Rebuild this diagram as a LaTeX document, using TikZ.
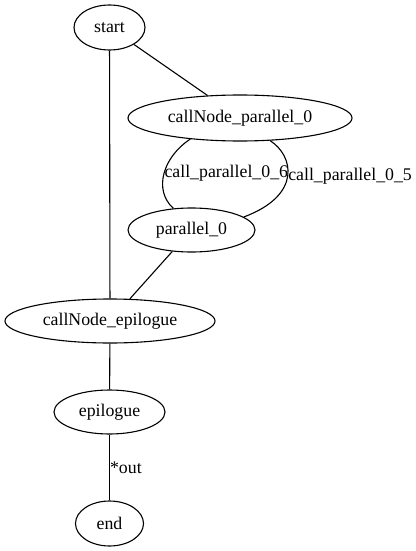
\documentclass[tikz,border=0pt]{standalone}
\usepackage{fontspec}
\setmainfont{Liberation Serif}
\usetikzlibrary{shapes.geometric}
\begin{document}
\begin{tikzpicture}[x=1pt,y=-1pt,
  every node/.style={font=\fontsize{17.8}{20}\selectfont},
  gnode/.style={draw, ellipse, inner sep=0pt, line width=1.1pt},
  edge/.style={line width=1.1pt},
  elabel/.style={inner sep=0pt, anchor=west}]
\useasboundingbox (0,0) rectangle (415,551);
\node[gnode, minimum width=71pt, minimum height=45pt] (start) at (109.5,27.5) {start};
\node[gnode, minimum width=224pt, minimum height=46pt] (cnp) at (240,118) {callNode\_parallel\_0};
\node[gnode, minimum width=127pt, minimum height=44pt] (par) at (191.5,230) {parallel\_0};
\node[gnode, minimum width=210pt, minimum height=44pt] (cne) at (110,321) {callNode\_epilogue};
\node[gnode, minimum width=111pt, minimum height=44pt] (epi) at (109.5,412) {epilogue};
\node[gnode, minimum width=68pt, minimum height=45pt] (end) at (109.5,523.5) {end};
\draw[edge] (start) -- (cne);
\draw[edge] (start) -- (cnp);
\draw[edge] (cnp.203.7) .. controls (163,157) and (153,190) .. (par.130)
  node[elabel, pos=0.5] {call\_parallel\_0\_6};
\draw[edge] (cnp.323.7) .. controls (293,155) and (303,195) .. (par.14.7)
  node[elabel, pos=0.5] {call\_parallel\_0\_5};
\draw[edge] (par) -- (cne);
\draw[edge] (cne) -- (epi);
\draw[edge] (epi) -- (end) node[elabel, pos=0.5] {*out};
\end{tikzpicture}
\end{document}
